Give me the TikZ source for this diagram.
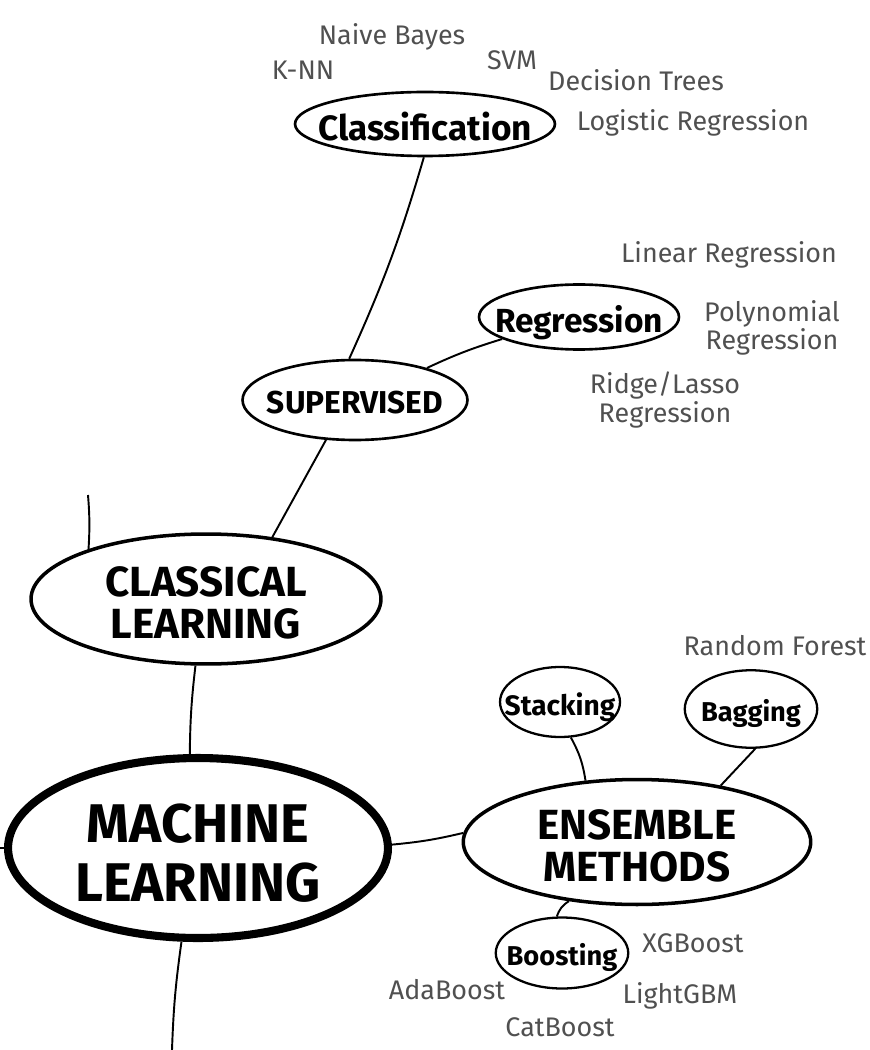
\documentclass[tikz,border=0pt]{standalone}
\usepackage{fontspec}
\setmainfont{Fira Sans}
\usetikzlibrary{shapes.geometric}
\definecolor{leafgray}{HTML}{505050}
\newcommand{\nowidth}[1]{\makebox[0pt][c]{\raisebox{-0.22em}[\height][\depth]{\begin{tabular}{@{}c@{}}#1\end{tabular}}}}
\tikzset{
  topic/.style={ellipse,draw,inner sep=0pt},
  rootnode/.style={topic,line width=4.6pt,font=\bfseries\fontsize{31}{34}\selectfont},
  bignode/.style={topic,line width=2pt,font=\bfseries\fontsize{24}{23}\selectfont},
  subnode/.style={topic,line width=1.5pt,font=\bfseries\fontsize{20}{22}\selectfont},
  smallnode/.style={topic,line width=1.3pt,font=\bfseries\fontsize{15.5}{17}\selectfont},
  leaf/.style={text=leafgray,align=center,font=\fontsize{15.3}{14.6}\selectfont},
  link/.style={line width=1.1pt}
}

\begin{document}
\begin{tikzpicture}[x=0.02cm,y=-0.02cm]
  \useasboundingbox (0,0) rectangle (869,1050);
  % main topics
  \node[rootnode,minimum width=7.6cm,minimum height=3.6cm] (ml) at (198,848) {\nowidth{MACHINE\\LEARNING}};
  \node[bignode,minimum width=7.0cm,minimum height=2.6cm] (classic) at (206,599) {\nowidth{CLASSICAL\\LEARNING}};
  \node[bignode,minimum width=6.95cm,minimum height=2.5cm] (ens) at (637,842) {\nowidth{ENSEMBLE\\METHODS}};
  \node[subnode,font=\bfseries\fontsize{18}{19}\selectfont,minimum width=4.5cm,minimum height=1.6cm] (sup) at (355,400) {\nowidth{SUPERVISED}};
  \node[subnode,minimum width=5.2cm,minimum height=1.28cm] (cls) at (425,124) {\nowidth{Classification}};
  \node[subnode,font=\bfseries\fontsize{19}{19}\selectfont,minimum width=4.0cm,minimum height=1.3cm] (reg) at (579,317) {\nowidth{Regression}};
  \node[smallnode,font=\bfseries\fontsize{16}{17}\selectfont,minimum width=2.4cm,minimum height=1.4cm] (stk) at (560,702) {\nowidth{Stacking}};
  \node[smallnode,minimum width=2.65cm,minimum height=1.55cm] (bag) at (751,709) {\nowidth{Bagging}};
  \node[smallnode,minimum width=2.65cm,minimum height=1.42cm] (bst) at (562,953) {\nowidth{Boosting}};
  % algorithms
  \node[leaf] (nb) at (392,37) {Naive Bayes};
  \node[leaf] (knn) at (303,70) {K-NN};
  \node[leaf] (svm) at (512,60) {SVM};
  \node[leaf] (dt) at (636,80) {Decision Trees};
  \node[leaf] (lr) at (693,123) {Logistic Regression};
  \node[leaf] (lin) at (729,255) {Linear Regression};
  \node[leaf] (poly) at (772,328) {Polynomial\\Regression};
  \node[leaf] (ridge) at (665,400) {Ridge/Lasso\\Regression};
  \node[leaf] (rf) at (775,646) {Random Forest};
  \node[leaf] (xgb) at (693,943) {XGBoost};
  \node[leaf] (ada) at (447,990) {AdaBoost};
  \node[leaf] (lgbm) at (680,996) {LightGBM};
  \node[leaf] (cat) at (560,1027) {CatBoost};
  % loose ends
  \coordinate (upA) at (88,495);
  \coordinate (leftA) at (0,848);
  \coordinate (downA) at (172,1050);
  % links
  \draw[link] (cls.268) to[bend left=4] (sup.98);
  \draw[link] (sup.24) to[bend left=4] (reg.196);
  \draw[link] (sup.234) -- (classic.43);
  \draw[link] (classic.157) to[bend right=4] (upA);
  \draw[link] (classic.261) to[bend right=3] (ml.95);
  \draw[link] (ml.180) -- (leftA);
  \draw[link] (ml.260) to[bend right=3] (downA);
  \draw[link] (ml.1) to[bend right=4] (ens.177);
  \draw[link] (stk.287) to[bend left=10] (ens.130);
  \draw[link] (bag.276) -- (ens.34);
  \draw[link] (ens.221) to[bend right=20] (bst.98);
\end{tikzpicture}
\end{document}
